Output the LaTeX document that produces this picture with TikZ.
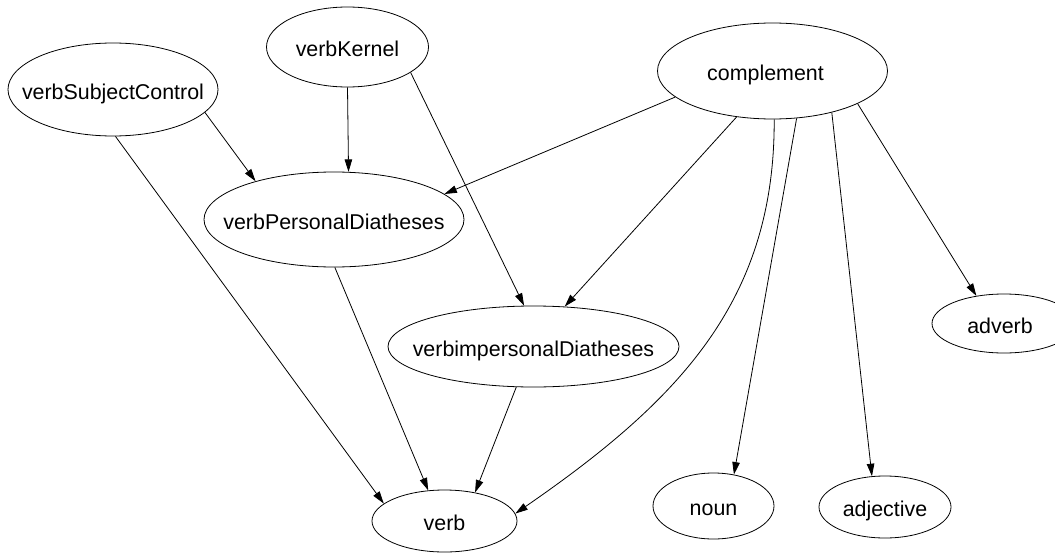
\documentclass[tikz,border=0pt]{standalone}
\usepackage{fontspec}
\setmainfont{Liberation Sans}
\usetikzlibrary{shapes.geometric,arrows.meta}
\newcommand\ntext[2][0pt]{\makebox[0pt]{\raisebox{0pt}[19pt][0pt]{#2}\hspace{#1}}}
\begin{document}
\begin{tikzpicture}[x=1pt,y=-1pt,
  ell/.style={draw, ellipse, inner sep=0pt, line width=0.8pt, font=\fontsize{21.4}{25}\selectfont},
  edge/.style={draw, line width=0.8pt, -{Triangle[length=12.5pt,width=7.5pt]}}]
\useasboundingbox (0,0) rectangle (1055,554);
\begin{scope}
\clip (0,0) rectangle (1055,554);
\node[ell, minimum width=210pt, minimum height=93pt] (vsc) at (113,89.5) {\ntext{verbSubjectControl}};
\node[ell, minimum width=162pt, minimum height=80pt] (vk) at (347.5,47) {\ntext{verbKernel}};
\node[ell, minimum width=230pt, minimum height=96pt] (comp) at (772.5,71) {\ntext[14pt]{complement}};
\node[ell, minimum width=260pt, minimum height=95pt] (vpd) at (334,219.5) {\ntext{verbPersonalDiatheses}};
\node[ell, minimum width=291pt, minimum height=81pt] (vid) at (533.5,346.5) {\ntext{verbimpersonalDiatheses}};
\node[ell, minimum width=144pt, minimum height=59pt] (adv) at (1004,323.5) {\ntext[8pt]{adverb}};
\node[ell, minimum width=145pt, minimum height=62pt] (verb) at (444.5,521) {\ntext{verb}};
\node[ell, minimum width=121pt, minimum height=66pt] (noun) at (713.5,506) {\ntext{noun}};
\node[ell, minimum width=132pt, minimum height=62pt] (adj) at (885,507) {\ntext{adjective}};
\end{scope}

\draw[edge] (vsc.-14.2) -- (vpd.154.3);
\draw[edge] (vsc.-87.5) -- (verb.164);
\draw[edge] (vk.-90) -- (vpd.73.5);
\draw[edge] (vk.-22.2) -- (vid.103);
\draw[edge] (comp.195) -- (vpd.13.8);
\draw[edge] (comp.-128.5) -- (vid.52);
\draw[edge] (comp.-88) .. controls (775,300) and (680,400) .. (verb.6);
\draw[edge] (comp.-63) -- (noun.57);
\draw[edge] (comp.-35.4) -- (adj.113);
\draw[edge] (comp.-21.7) -- (adv.135.5);
\draw[edge] (vpd.-89) -- (verb.118);
\draw[edge] (vid.-113) -- (verb.43.6);
\end{tikzpicture}
\end{document}
